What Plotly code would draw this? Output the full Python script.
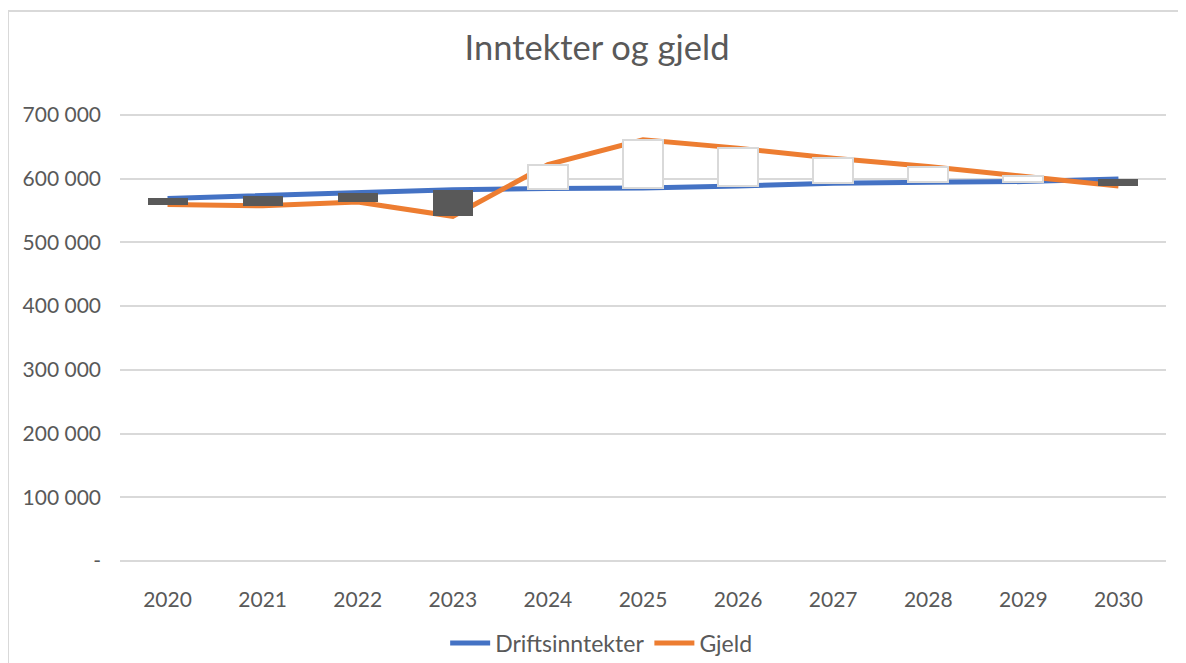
import plotly.graph_objects as go

years = [2020, 2021, 2022, 2023, 2024, 2025, 2026, 2027, 2028, 2029, 2030]
driftsinntekter = [569000, 573500, 577000, 582500, 584500, 585500, 588500, 593000, 594500, 595500, 599500]
gjeld = [559500, 557500, 563500, 541000, 622000, 661000, 648000, 632000, 619000, 604000, 588500]
ytick_vals = [0, 100000, 200000, 300000, 400000, 500000, 600000, 700000]
ytick_text = ["-", "100 000", "200 000", "300 000", "400 000", "500 000", "600 000", "700 000"]

FONT = "Lato"
TXT = "#595959"
GRID = "#d9d9d9"

fig = go.Figure()
fig.add_trace(go.Scatter(x=years, y=driftsinntekter, mode="lines", name="Driftsinntekter",
                         line=dict(color="#4472C4", width=5)))
fig.add_trace(go.Scatter(x=years, y=gjeld, mode="lines", name="Gjeld",
                         line=dict(color="#ED7D31", width=5)))

# up/down bars between the two series (drawn on an overlay subplot so they sit above the lines)
up_x, up_base, up_h = [], [], []
dn_x, dn_base, dn_h = [], [], []
for yr, a, b in zip(years, driftsinntekter, gjeld):
    if b >= a:
        up_x.append(yr); up_base.append(a); up_h.append(b - a)
    else:
        dn_x.append(yr); dn_base.append(b); dn_h.append(a - b)

fig.add_trace(go.Bar(x=up_x, y=up_h, base=up_base, width=0.42, showlegend=False,
                     marker=dict(color="#ffffff", line=dict(color=GRID, width=2)),
                     xaxis="x2", yaxis="y2", hoverinfo="skip"))
fig.add_trace(go.Bar(x=dn_x, y=dn_h, base=dn_base, width=0.42, showlegend=False,
                     marker=dict(color="#595959", line=dict(color="#595959", width=0)),
                     xaxis="x2", yaxis="y2", hoverinfo="skip"))

xr = [2019.5, 2030.5]
yr_ = [-3140, 703140]

W, H = 1178, 655
L, T = 112, 105
PW, PH = 1046, 450

fig.update_layout(
    width=W, height=H,
    margin=dict(l=L, r=W - L - PW, t=T, b=H - T - PH, autoexpand=False),
    paper_bgcolor="white", plot_bgcolor="white",
    font=dict(family=FONT, color=TXT, size=21),
    title=dict(text="Inntekter og gjeld", x=0.5, xanchor="center", y=1 - 40 / H, yanchor="middle",
               font=dict(family=FONT, size=34.5, color=TXT)),
    showlegend=True,
    legend=dict(orientation="h", x=0.46, xanchor="center", y=-0.178, yanchor="middle",
                font=dict(family=FONT, size=23, color=TXT), itemwidth=40,
                bgcolor="rgba(0,0,0,0)", traceorder="normal"),
    xaxis=dict(range=xr, tickvals=years, ticktext=[str(y) for y in years],
               showgrid=False, zeroline=False, showline=False, ticks="",
               tickfont=dict(family=FONT, size=21, color=TXT), ticklabelstandoff=22),
    yaxis=dict(range=yr_, tickvals=ytick_vals, ticktext=ytick_text,
               showgrid=True, gridcolor=GRID, gridwidth=2, zeroline=False, showline=False,
               ticks="", tickfont=dict(family=FONT, size=21, color=TXT), ticklabelstandoff=18),
    xaxis2=dict(range=xr, overlaying="x", visible=False),
    yaxis2=dict(range=yr_, overlaying="y", visible=False),
    bargap=0,
    shapes=[dict(type="rect", xref="paper", yref="paper",
                 x0=-L / PW, x1=1.05, y0=-0.3, y1=1 + (T - 3) / PH,
                 line=dict(color=GRID, width=2), fillcolor="rgba(0,0,0,0)", layer="below")],
)

fig.write_html("out.html")
